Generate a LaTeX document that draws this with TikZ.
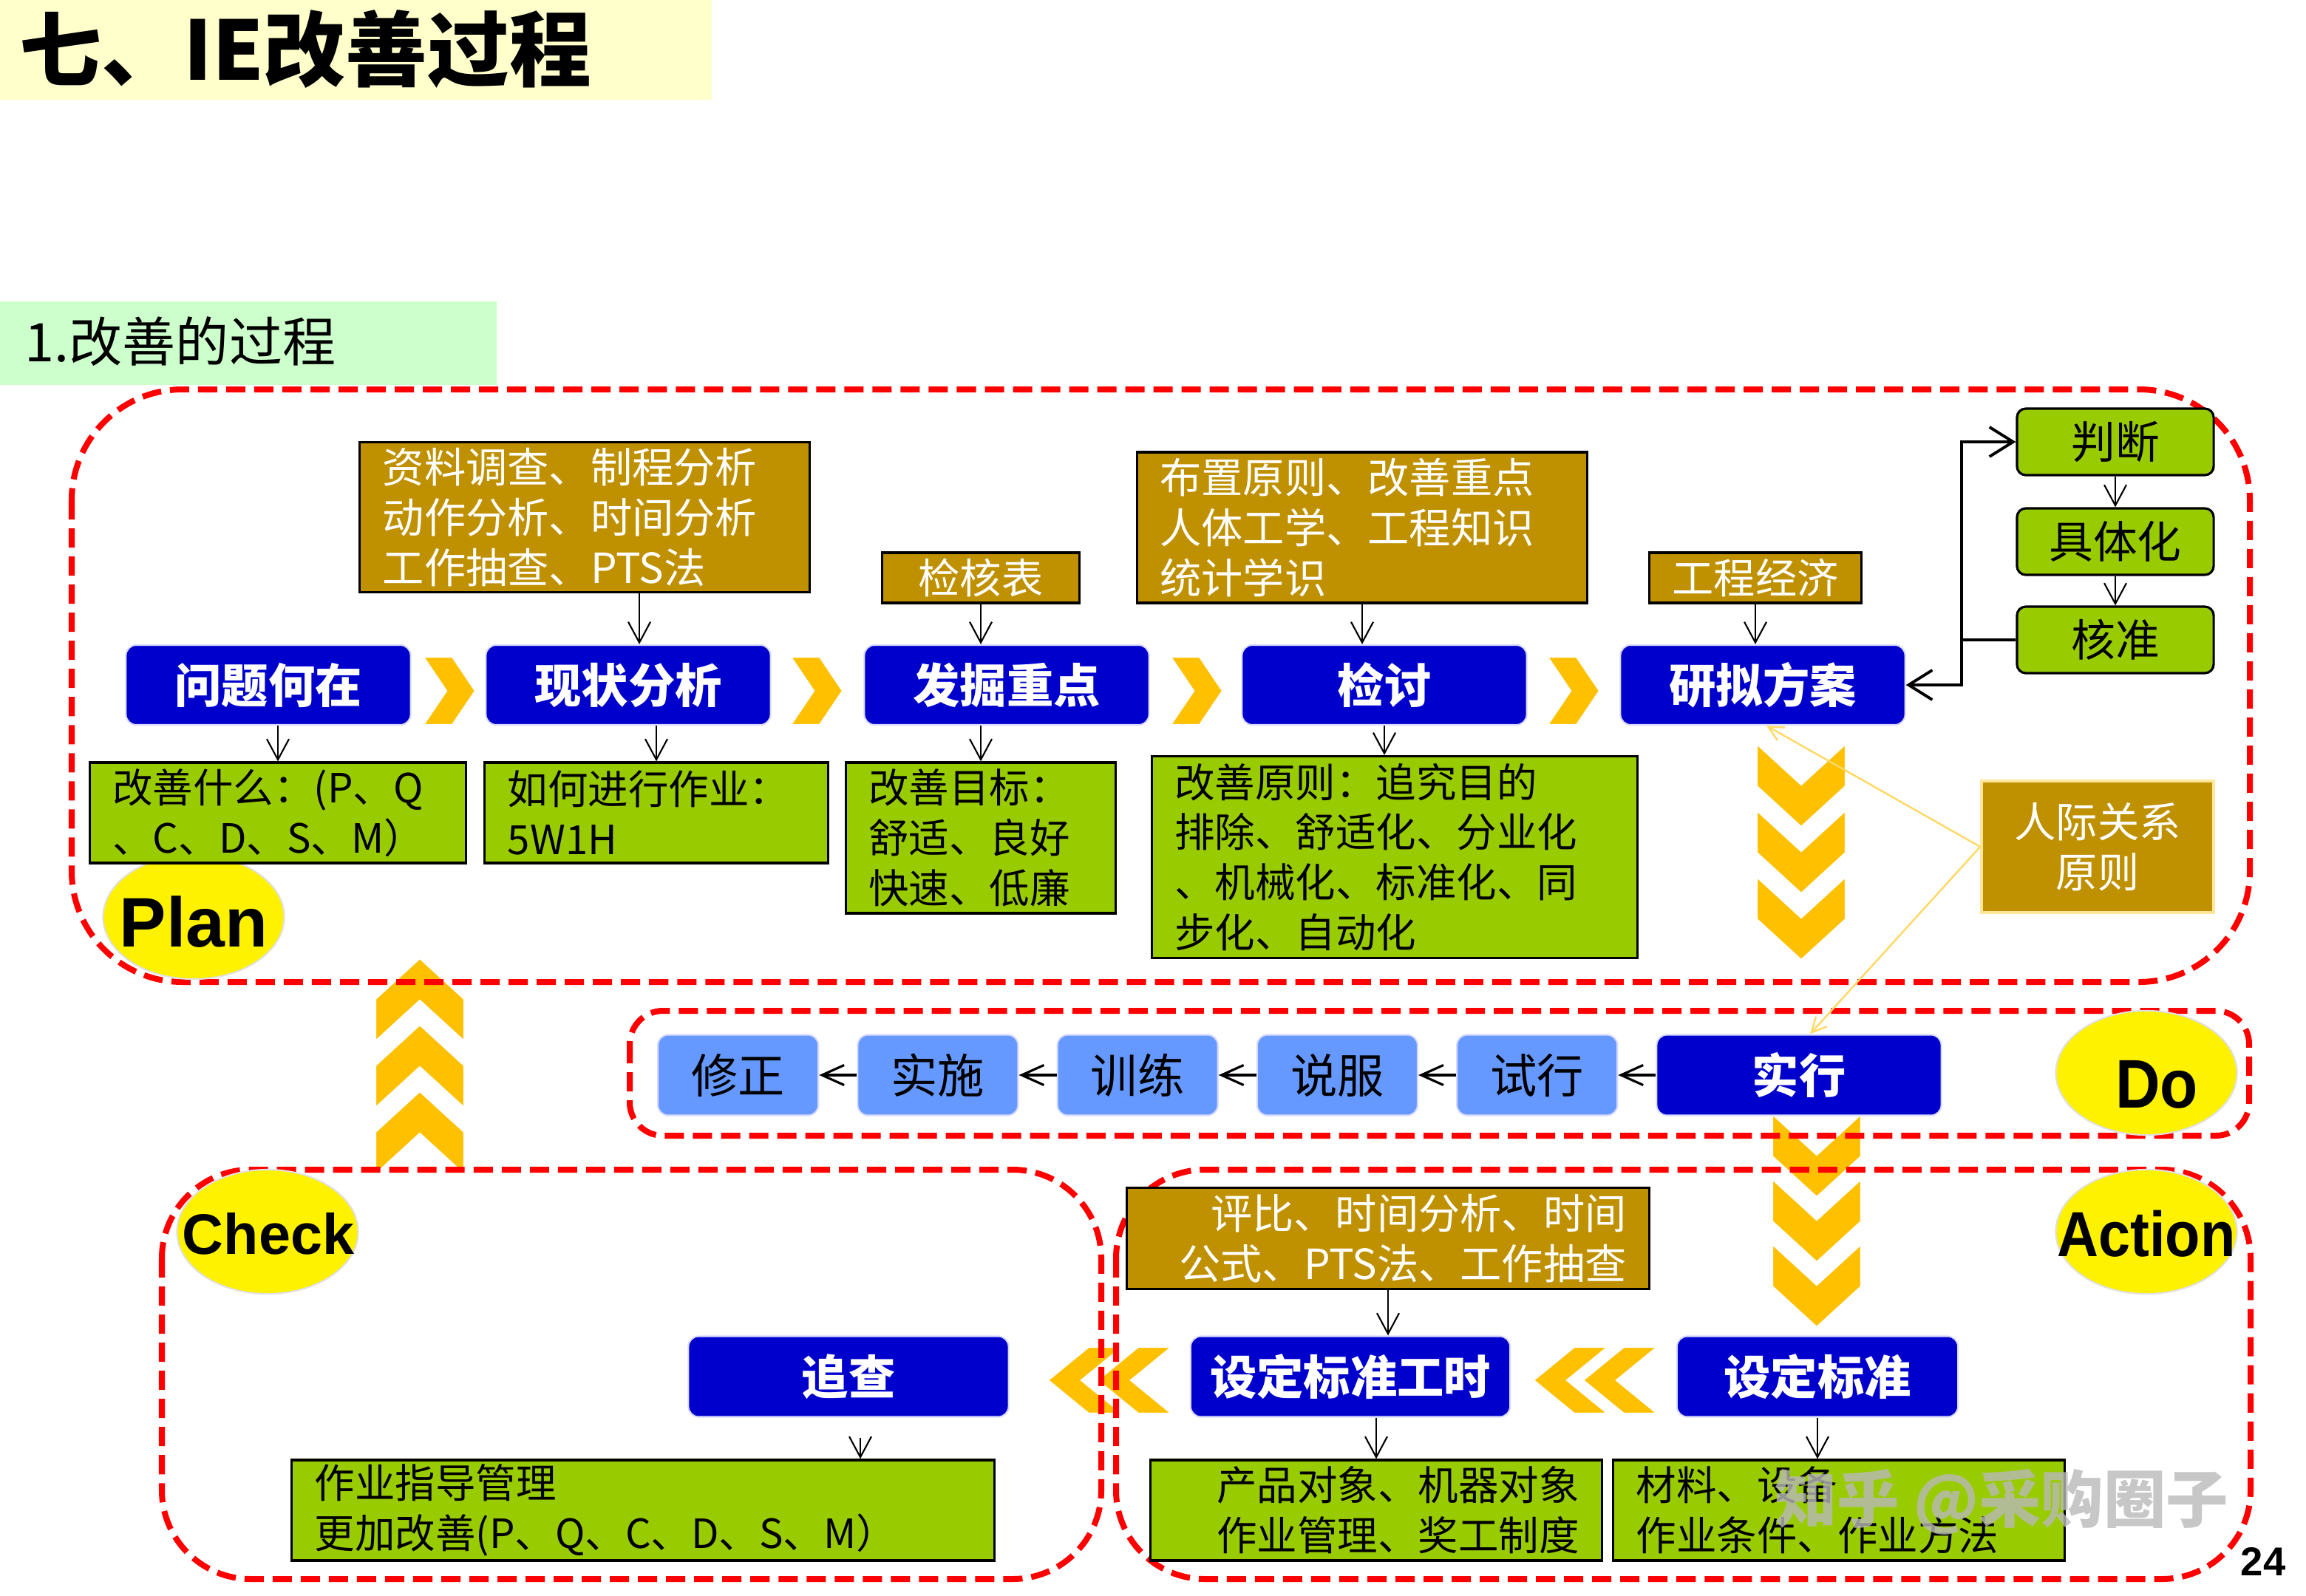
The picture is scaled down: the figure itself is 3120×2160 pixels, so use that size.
\documentclass[tikz,border=0pt]{standalone}
\usepackage{fontspec}
\setmainfont{Noto Sans CJK SC}
\newfontfamily\pdcafont{Liberation Sans}
\newfontfamily\pdcanarrow{Liberation Sans}[FakeStretch=0.9]
\usetikzlibrary{positioning,shapes.geometric,arrows.meta}

\definecolor{pblue}{HTML}{0000CC}
\definecolor{lblue}{HTML}{6699FF}
\definecolor{pbrown}{HTML}{BF9000}
\definecolor{pgreen}{HTML}{99CC00}
\definecolor{pchev}{HTML}{FFC000}
\definecolor{ptitle}{HTML}{FFFFCC}
\definecolor{psub}{HTML}{CCFFCC}
\definecolor{pline}{HTML}{FFD966}
\definecolor{pedge}{HTML}{FFE699}

\begin{document}
\begin{tikzpicture}[x=0.01cm,y=-0.01cm,
    blk/.style={rectangle,rounded corners=0.14cm,fill=pblue,draw=blue!15,line width=0.6pt,text=white,font=\fontsize{18}{21}\selectfont\bfseries,minimum height=1.08cm,inner sep=0pt},
    lbk/.style={blk,fill=lblue,text=black,font=\fontsize{18}{21}\selectfont,minimum width=2.17cm},
    note/.style={rectangle,fill=pbrown,draw=black,line width=0.9pt,text=white,font=\fontsize{16}{19.3}\selectfont,inner ysep=0pt,inner xsep=0.31cm},
    grn/.style={rectangle,fill=pgreen,draw=black,line width=0.9pt,font=\fontsize{15.5}{19.3}\selectfont,inner ysep=0pt,inner xsep=0.31cm},
    grnr/.style={grn,rounded corners=0.12cm,minimum width=2.66cm,minimum height=0.9cm,font=\fontsize{17}{20}\selectfont},
    ell/.style={ellipse,fill=yellow,draw=black!12,line width=0.6pt,minimum width=2.45cm,minimum height=1.68cm,inner sep=0pt},
    pdca/.style={font=\pdcafont\bfseries\fontsize{#1}{30}\selectfont,inner sep=0pt},
    pdcan/.style={font=\pdcanarrow\bfseries\fontsize{#1}{30}\selectfont,inner sep=0pt},
    frm/.style={draw=red,line width=0.08cm,dash pattern=on 0.26cm off 0.12cm},
    chev/.style={fill=pchev,draw=white,line width=0.6pt},
    arr/.style={-{Straight Barb[length=0.28cm,width=0.3cm]},line width=0.6pt},
    darr/.style={-{Straight Barb[length=0.3cm,width=0.27cm]},line width=0.9pt},
    big/.style={-{Straight Barb[length=0.32cm,width=0.4cm]},line width=1.1pt},
    hint/.style={draw=pline,line width=0.7pt,-{Straight Barb[length=0.2cm,width=0.2cm]}},
    chevR/.pic={\path[chev] (-35,-46) -- (4,-46) -- (35,0) -- (4,46) -- (-35,46) -- (-4,0) -- cycle;},
    chevD/.pic={\path[chev] (-60,0) -- (0,55) -- (60,0) -- (60,57) -- (0,112) -- (-60,57) -- cycle;},
    chevU/.pic={\path[chev] (0,0) -- (60,55) -- (60,112) -- (0,57) -- (-60,112) -- (-60,55) -- cycle;},
    chevL/.pic={\path[chev] (0,0) -- (55,-45) -- (100,-45) -- (45,0) -- (100,45) -- (55,45) -- cycle;}]
  \useasboundingbox (0,0) rectangle (3120,2160);
  \fill[white] (0,0) rectangle (3120,2160);

  % headings
  \fill[ptitle] (0,0) rectangle (963,135);
  \fill[psub] (0,408) rectangle (672,521);
  \node[anchor=west,inner sep=0pt,font=\bfseries\fontsize{31.5}{33}\selectfont] (title) at (26,66) {七、IE改善过程};
  \node[anchor=west,inner sep=0pt,font=\fontsize{20.5}{22}\selectfont] (subtitle) at (33,462) {1.改善的过程};

  % chevrons
  \foreach \cx in {608,1105,1619,2129} \pic at (\cx,935) {chevR};
  \foreach \ty in {1007,1097,1187} \pic at (2437,\ty) {chevD};
  \foreach \ty in {1508,1596,1684} \pic at (2458,\ty) {chevD};
  \foreach \ty in {1477,1387,1297} \pic at (568,\ty) {chevU};
  \foreach \cx in {2075,2142,1418,1485} \pic at (\cx,1868) {chevL};

  % frames
  \draw[frm,rounded corners=1.5cm] (97,527) rectangle (3044,1329);
  \draw[frm,rounded corners=0.45cm] (852,1368) rectangle (3043,1537);
  \draw[frm,rounded corners=1.2cm] (219,1583) rectangle (1490,2137);
  \draw[frm,rounded corners=1.2cm] (1510,1583) rectangle (3045,2137);

  % PDCA marks
  \node[ell] (ePlan) at (262,1241) {};
  \node[pdca=27] (tPlan) at (262,1248) {Plan};
  \node[ell] (eDo) at (2904,1452) {};
  \node[pdcan=26.5] (tDo) at (2918,1468) {Do};
  \node[ell] (eCheck) at (362,1667) {};
  \node[pdca=22] (tCheck) at (363,1670) {Check};
  \node[ell] (eAction) at (2904,1667) {};
  \node[pdcan=24.5] (tAction) at (2904,1670) {Action};

  % Plan
  \node[note,text width=5.46cm,align=left,minimum height=2.03cm] (nA) at (791,700) {资料调查、制程分析\\动作分析、时间分析\\工作抽查、PTS法};
  \node[note,minimum width=2.67cm,minimum height=0.68cm] (nB) at (1327,782) {检核表};
  \node[note,text width=5.47cm,align=left,minimum height=2.04cm] (nC) at (1843,714) {布置原则、改善重点\\人体工学、工程知识\\统计学识};
  \node[note,minimum width=2.68cm,minimum height=0.68cm] (nD) at (2375,782) {工程经济};

  \node[blk,minimum width=3.85cm] (q1) at (363,927) {问题何在};
  \node[blk,minimum width=3.85cm] (q2) at (850,927) {现状分析};
  \node[blk,minimum width=3.85cm] (q3) at (1362,927) {发掘重点};
  \node[blk,minimum width=3.85cm] (q4) at (1873,927) {检讨};
  \node[blk,minimum width=3.85cm] (q5) at (2385,927) {研拟方案};

  \node[grn,text width=4.47cm,align=left,minimum height=1.36cm] (g1) at (376,1100) {改善什么：(P、Q\\、C、D、S、M）};
  \node[grn,text width=4.02cm,align=left,minimum height=1.36cm] (g2) at (888,1100) {如何进行作业：\\5W1H};
  \node[grn,text width=3.03cm,align=left,minimum height=2.04cm] (g3) at (1327,1134) {改善目标：\\舒适、良好\\快速、低廉};
  \node[grn,text width=5.95cm,align=left,minimum height=2.73cm] (g4) at (1887,1160) {改善原则：追究目的\\排除、舒适化、分业化\\、机械化、标准化、同\\步化、自动化};

  \node[grnr] (r1) at (2862,598) {判断};
  \node[grnr] (r2) at (2862,733) {具体化};
  \node[grnr] (r3) at (2862,866) {核准};
  \node[note,draw=pedge,line width=1pt,align=center,minimum width=3.14cm,minimum height=1.78cm] (rel) at (2838,1146) {人际关系\\原则};

  \draw[arr] ([xshift=0.15cm]q2.north |- nA.south) -- ([xshift=0.15cm]q2.north);
  \draw[arr] (nB) -- (nB.south |- q3.north);
  \draw[arr] (nC.south) -- (nC.south |- q4.north);
  \draw[arr] (nD) -- (nD.south |- q5.north);
  \draw[arr] (g1.north |- q1.south) -- (g1.north);
  \draw[arr] (g2.north |- q2.south) -- (g2.north);
  \draw[arr] (g3.north |- q3.south) -- (g3.north);
  \draw[arr] (q4) -- (q4.south |- g4.north);
  \path[arr] (r1) edge (r2) (r2) edge (r3);
  \coordinate (brk) at (2654,866);
  \draw[line width=1.1pt] (r3.west) -- (brk);
  \draw[big] (brk) |- (r1.west);
  \draw[big] (brk) |- (q5.east);

  % Do
  \node[blk,minimum width=3.85cm,minimum height=1.09cm] (d0) at (2434,1455) {实行};
  \node[lbk,minimum height=1.09cm,left=0.51cm of d0] (d1) {试行};
  \node[lbk,minimum height=1.09cm,left=0.51cm of d1] (d2) {说服};
  \node[lbk,minimum height=1.09cm,left=0.51cm of d2] (d3) {训练};
  \node[lbk,minimum height=1.09cm,left=0.51cm of d3] (d4) {实施};
  \node[lbk,minimum height=1.09cm,left=0.51cm of d4] (d5) {修正};
  \path[darr] (d0) edge (d1) (d1) edge (d2) (d2) edge (d3) (d3) edge (d4) (d4) edge (d5);
  \draw[hint] (rel.west) -- ([xshift=0.05cm]q5.south);
  \draw[hint] (rel.west) -- ([xshift=0.15cm]d0.north);

  % Check / Action
  \node[note,text width=6.45cm,align=right,minimum height=1.37cm] (nE) at (1878,1676) {评比、时间分析、时间\\公式、PTS法、工作抽查};
  \node[blk,minimum width=3.80cm,minimum height=1.09cm] (a1) at (2459,1863) {设定标准};
  \node[blk,minimum width=4.32cm,minimum height=1.09cm] (a2) at (1827,1863) {设定标准工时};
  \node[blk,minimum width=4.33cm,minimum height=1.09cm] (a3) at (1148,1863) {追查};
  \node[grn,text width=5.49cm,align=right,minimum height=1.36cm] (g5) at (1862,2044) {产品对象、机器对象\\作业管理、奖工制度};
  \node[grn,text width=5.48cm,align=left,minimum height=1.36cm] (g6) at (2488,2044) {材料、设备\\作业条件、作业方法};
  \node[grn,text width=8.88cm,align=left,minimum height=1.36cm] (g7) at (870,2044) {作业指导管理\\更加改善(P、Q、C、D、S、M）};

  \draw[arr] (nE) -- (nE.south |- a2.north);
  \draw[arr] (g5.north |- a2.south) -- (g5.north);
  \draw[arr] (a1) -- (a1.south |- g6.north);
  \draw[arr] ([xshift=0.16cm,yshift=-0.27cm]a3.south) -- ([xshift=0.16cm]a3.south |- g7.north);

  \node[font=\bfseries\fontsize{24}{24}\selectfont,text=gray!55,opacity=0.8] (wm) at (2708,2033) {知乎 @采购圈子};
  \node[font=\pdcafont\bfseries\fontsize{15.5}{16}\selectfont,inner sep=0pt] (pg) at (3062,2113) {24};
\end{tikzpicture}
\end{document}
